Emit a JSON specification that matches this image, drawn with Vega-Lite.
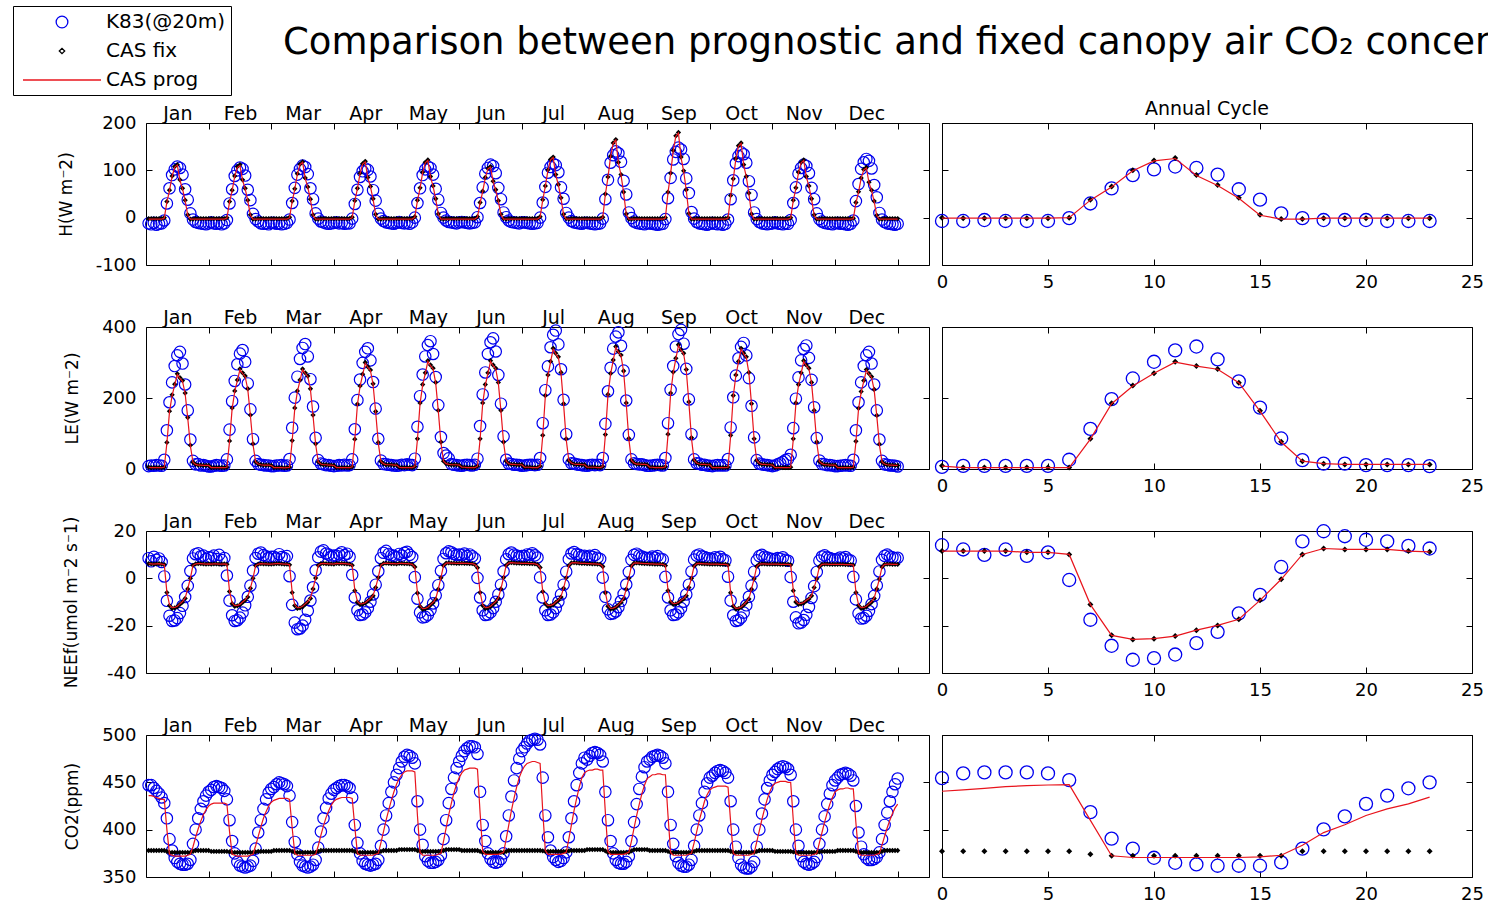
{
  "$schema": "https://vega.github.io/schema/vega-lite/v6.json",
  "background": "white",
  "padding": {"left": 12, "top": 5, "right": 5, "bottom": 5},
  "title": {
    "text": "Comparison between prognostic and fixed canopy air CO₂ concentration",
    "anchor": "start", "frame": "group", "font": "DejaVu Sans", "fontSize": 37,
    "fontWeight": "normal", "color": "black", "dx": 137, "dy": 56, "offset": 0
  },
  "config": {
    "view": {"stroke": "black", "strokeWidth": 1},
    "axis": {
      "domain": false, "grid": false, "ticks": true, "tickSize": -6, "tickColor": "black", "tickWidth": 1,
      "labelFont": "DejaVu Sans", "labelFontSize": 18, "labelColor": "black", "labelPadding": 16,
      "labelOverlap": false, "labelFlush": false, "labelBound": false,
      "titleFont": "DejaVu Sans", "titleFontSize": 17, "titleFontWeight": "normal", "titleColor": "black"
    }
  },
  "datasets": {
    "monthly": [
{"t":1,"Ho":-12,"Hf":-2,"Hg":-3,"Lo":8,"Lf":5,"Lg":5,"No":8.5,"Nf":6.2,"Ng":6.2,"Co":447,"Cf":378,"Cg":436},
{"t":2,"Ho":-14,"Hf":-2,"Hg":-3,"Lo":10,"Lf":4,"Lg":4,"No":7.2,"Nf":6.1,"Ng":6.1,"Co":447,"Cf":378,"Cg":436},
{"t":3,"Ho":-11,"Hf":-2,"Hg":-3,"Lo":9,"Lf":4,"Lg":4,"No":9.1,"Nf":6.0,"Ng":6.0,"Co":444,"Cf":378,"Cg":435},
{"t":4,"Ho":-15,"Hf":-2,"Hg":-3,"Lo":11,"Lf":4,"Lg":4,"No":7.8,"Nf":6.1,"Ng":6.1,"Co":441,"Cf":378,"Cg":434},
{"t":5,"Ho":-13,"Hf":-2,"Hg":-3,"Lo":10,"Lf":4,"Lg":4,"No":8.4,"Nf":6.2,"Ng":6.2,"Co":438,"Cf":378,"Cg":433},
{"t":6,"Ho":-12,"Hf":-2,"Hg":-3,"Lo":9,"Lf":4,"Lg":4,"No":6.9,"Nf":6.0,"Ng":6.0,"Co":434,"Cf":378,"Cg":432},
{"t":7,"Ho":-6,"Hf":0,"Hg":-1,"Lo":26,"Lf":5,"Lg":5,"No":0.8,"Nf":5.8,"Ng":5.8,"Co":428,"Cf":378,"Cg":432},
{"t":8,"Ho":30,"Hf":34,"Hg":33,"Lo":109,"Lf":75,"Lg":73,"No":-9.5,"Nf":-6.0,"Ng":-5.8,"Co":412,"Cf":377,"Cg":400},
{"t":9,"Ho":62,"Hf":58,"Hg":57,"Lo":188,"Lf":163,"Lg":161,"No":-15.8,"Nf":-11.5,"Ng":-11.2,"Co":390,"Cf":376,"Cg":374},
{"t":10,"Ho":90,"Hf":88,"Hg":87,"Lo":244,"Lf":209,"Lg":207,"No":-18.0,"Nf":-12.7,"Ng":-12.4,"Co":378,"Cf":376,"Cg":373},
{"t":11,"Ho":102,"Hf":108,"Hg":107,"Lo":290,"Lf":239,"Lg":237,"No":-17.8,"Nf":-12.5,"Ng":-12.3,"Co":370,"Cf":376,"Cg":372},
{"t":12,"Ho":108,"Hf":112,"Hg":111,"Lo":320,"Lf":268,"Lg":266,"No":-16.8,"Nf":-12.0,"Ng":-11.8,"Co":366,"Cf":376,"Cg":372},
{"t":13,"Ho":105,"Hf":80,"Hg":79,"Lo":330,"Lf":257,"Lg":255,"No":-14.7,"Nf":-11.0,"Ng":-10.8,"Co":364,"Cf":376,"Cg":372},
{"t":14,"Ho":91,"Hf":62,"Hg":61,"Lo":297,"Lf":249,"Lg":247,"No":-11.6,"Nf":-10.0,"Ng":-9.8,"Co":363,"Cf":376,"Cg":372},
{"t":15,"Ho":60,"Hf":37,"Hg":36,"Lo":238,"Lf":214,"Lg":212,"No":-7.9,"Nf":-8.5,"Ng":-8.3,"Co":363,"Cf":376,"Cg":372},
{"t":16,"Ho":38,"Hf":6,"Hg":5,"Lo":165,"Lf":145,"Lg":143,"No":-3.2,"Nf":-4.5,"Ng":-4.4,"Co":364,"Cf":376,"Cg":373},
{"t":17,"Ho":9,"Hf":-3,"Hg":-3,"Lo":83,"Lf":67,"Lg":65,"No":3.1,"Nf":0.0,"Ng":0.1,"Co":368,"Cf":376,"Cg":374},
{"t":18,"Ho":-4,"Hf":-3,"Hg":-3,"Lo":23,"Lf":19,"Lg":19,"No":8.4,"Nf":5.5,"Ng":5.5,"Co":385,"Cf":377,"Cg":382},
{"t":19,"Ho":-9,"Hf":-2,"Hg":-3,"Lo":13,"Lf":13,"Lg":13,"No":10.2,"Nf":6.1,"Ng":6.1,"Co":400,"Cf":378,"Cg":392},
{"t":20,"Ho":-11,"Hf":-2,"Hg":-3,"Lo":14,"Lf":11,"Lg":11,"No":10.6,"Nf":6.2,"Ng":6.2,"Co":412,"Cf":378,"Cg":401},
{"t":21,"Ho":-12,"Hf":-2,"Hg":-3,"Lo":10,"Lf":11,"Lg":11,"No":9.3,"Nf":6.2,"Ng":6.2,"Co":422,"Cf":378,"Cg":409},
{"t":22,"Ho":-13,"Hf":-2,"Hg":-3,"Lo":11,"Lf":10,"Lg":10,"No":9.6,"Nf":6.1,"Ng":6.1,"Co":430,"Cf":378,"Cg":416},
{"t":23,"Ho":-14,"Hf":-2,"Hg":-3,"Lo":9,"Lf":10,"Lg":10,"No":8.2,"Nf":6.0,"Ng":6.0,"Co":436,"Cf":378,"Cg":421},
{"t":24,"Ho":-12,"Hf":-2,"Hg":-3,"Lo":7,"Lf":10,"Lg":10,"No":8.9,"Nf":6.1,"Ng":6.1,"Co":440,"Cf":378,"Cg":425},
{"t":25,"Ho":-10,"Hf":-2,"Hg":-3,"Lo":7,"Lf":4,"Lg":4,"No":8.8,"Nf":6.0,"Ng":6.0,"Co":442,"Cf":377,"Cg":427},
{"t":26,"Ho":-12,"Hf":-2,"Hg":-3,"Lo":9,"Lf":4,"Lg":4,"No":9.6,"Nf":6.1,"Ng":6.1,"Co":445,"Cf":377,"Cg":428},
{"t":27,"Ho":-13,"Hf":-2,"Hg":-3,"Lo":11,"Lf":4,"Lg":4,"No":8.1,"Nf":6.1,"Ng":6.1,"Co":446,"Cf":377,"Cg":428},
{"t":28,"Ho":-11,"Hf":-2,"Hg":-3,"Lo":10,"Lf":4,"Lg":4,"No":9.9,"Nf":6.0,"Ng":6.0,"Co":445,"Cf":377,"Cg":428},
{"t":29,"Ho":-14,"Hf":-2,"Hg":-3,"Lo":9,"Lf":4,"Lg":4,"No":7.7,"Nf":6.0,"Ng":6.0,"Co":444,"Cf":377,"Cg":428},
{"t":30,"Ho":-12,"Hf":-2,"Hg":-3,"Lo":10,"Lf":4,"Lg":4,"No":8.6,"Nf":6.1,"Ng":6.1,"Co":441,"Cf":377,"Cg":428},
{"t":31,"Ho":-5,"Hf":0,"Hg":-1,"Lo":27,"Lf":5,"Lg":5,"No":1.2,"Nf":5.9,"Ng":5.9,"Co":432,"Cf":377,"Cg":427},
{"t":32,"Ho":30,"Hf":34,"Hg":33,"Lo":111,"Lf":79,"Lg":77,"No":-9.4,"Nf":-5.6,"Ng":-5.4,"Co":410,"Cf":376.5,"Cg":398},
{"t":33,"Ho":60,"Hf":58,"Hg":57,"Lo":191,"Lf":172,"Lg":170,"No":-15.6,"Nf":-10.7,"Ng":-10.4,"Co":388,"Cf":376,"Cg":374},
{"t":34,"Ho":88,"Hf":88,"Hg":87,"Lo":248,"Lf":220,"Lg":218,"No":-18.0,"Nf":-11.8,"Ng":-11.5,"Co":375,"Cf":376,"Cg":373},
{"t":35,"Ho":100,"Hf":108,"Hg":106,"Lo":295,"Lf":251,"Lg":249,"No":-17.7,"Nf":-11.6,"Ng":-11.4,"Co":366,"Cf":376,"Cg":372},
{"t":36,"Ho":106,"Hf":112,"Hg":110,"Lo":325,"Lf":282,"Lg":280,"No":-16.6,"Nf":-11.2,"Ng":-11.0,"Co":362,"Cf":376,"Cg":372},
{"t":37,"Ho":103,"Hf":80,"Hg":79,"Lo":335,"Lf":271,"Lg":269,"No":-14.5,"Nf":-10.2,"Ng":-10.0,"Co":361,"Cf":376,"Cg":372},
{"t":38,"Ho":89,"Hf":62,"Hg":61,"Lo":302,"Lf":262,"Lg":260,"No":-11.4,"Nf":-9.3,"Ng":-9.1,"Co":360,"Cf":376,"Cg":372},
{"t":39,"Ho":59,"Hf":37,"Hg":36,"Lo":241,"Lf":226,"Lg":224,"No":-7.8,"Nf":-7.9,"Ng":-7.7,"Co":361,"Cf":376,"Cg":372},
{"t":40,"Ho":37,"Hf":6,"Hg":5,"Lo":168,"Lf":152,"Lg":150,"No":-3.1,"Nf":-4.2,"Ng":-4.1,"Co":362,"Cf":376,"Cg":373},
{"t":41,"Ho":8,"Hf":-3,"Hg":-3,"Lo":84,"Lf":71,"Lg":69,"No":3.3,"Nf":0.0,"Ng":0.1,"Co":367,"Cf":376,"Cg":374},
{"t":42,"Ho":-3,"Hf":-3,"Hg":-3,"Lo":23,"Lf":20,"Lg":20,"No":8.6,"Nf":5.4,"Ng":5.4,"Co":380,"Cf":376.5,"Cg":383},
{"t":43,"Ho":-8,"Hf":-2,"Hg":-3,"Lo":14,"Lf":14,"Lg":14,"No":10.4,"Nf":6.0,"Ng":6.0,"Co":397,"Cf":377,"Cg":393},
{"t":44,"Ho":-12,"Hf":-2,"Hg":-3,"Lo":12,"Lf":12,"Lg":12,"No":10.9,"Nf":6.2,"Ng":6.2,"Co":410,"Cf":377,"Cg":403},
{"t":45,"Ho":-13,"Hf":-2,"Hg":-3,"Lo":11,"Lf":11,"Lg":11,"No":9.8,"Nf":6.1,"Ng":6.1,"Co":422,"Cf":377,"Cg":412},
{"t":46,"Ho":-12,"Hf":-2,"Hg":-3,"Lo":10,"Lf":11,"Lg":11,"No":9.3,"Nf":6.1,"Ng":6.1,"Co":432,"Cf":377,"Cg":419},
{"t":47,"Ho":-14,"Hf":-2,"Hg":-3,"Lo":10,"Lf":11,"Lg":11,"No":8.7,"Nf":6.0,"Ng":6.0,"Co":439,"Cf":377,"Cg":425},
{"t":48,"Ho":-11,"Hf":-2,"Hg":-3,"Lo":8,"Lf":10,"Lg":10,"No":9.1,"Nf":6.0,"Ng":6.0,"Co":443,"Cf":377,"Cg":429},
{"t":49,"Ho":-11,"Hf":-2,"Hg":-3,"Lo":8,"Lf":4,"Lg":4,"No":9.1,"Nf":6.1,"Ng":6.1,"Co":445,"Cf":378,"Cg":431},
{"t":50,"Ho":-13,"Hf":-2,"Hg":-3,"Lo":10,"Lf":4,"Lg":4,"No":8.4,"Nf":6.2,"Ng":6.2,"Co":448,"Cf":378,"Cg":432},
{"t":51,"Ho":-12,"Hf":-2,"Hg":-3,"Lo":10,"Lf":4,"Lg":4,"No":10.2,"Nf":6.2,"Ng":6.2,"Co":450,"Cf":378,"Cg":433},
{"t":52,"Ho":-14,"Hf":-2,"Hg":-3,"Lo":11,"Lf":4,"Lg":4,"No":9.0,"Nf":6.1,"Ng":6.1,"Co":449,"Cf":378,"Cg":433},
{"t":53,"Ho":-13,"Hf":-2,"Hg":-3,"Lo":9,"Lf":3,"Lg":3,"No":8.6,"Nf":6.0,"Ng":6.0,"Co":448,"Cf":378,"Cg":433},
{"t":54,"Ho":-11,"Hf":-2,"Hg":-3,"Lo":10,"Lf":4,"Lg":4,"No":9.4,"Nf":6.0,"Ng":6.0,"Co":446,"Cf":378,"Cg":433},
{"t":55,"Ho":-4,"Hf":1,"Hg":0,"Lo":28,"Lf":5,"Lg":5,"No":0.9,"Nf":5.7,"Ng":5.7,"Co":436,"Cf":378,"Cg":432},
{"t":56,"Ho":31,"Hf":35,"Hg":34,"Lo":116,"Lf":80,"Lg":78,"No":-11.2,"Nf":-6.0,"Ng":-5.8,"Co":408,"Cf":377,"Cg":402},
{"t":57,"Ho":63,"Hf":61,"Hg":60,"Lo":201,"Lf":172,"Lg":170,"No":-18.7,"Nf":-11.5,"Ng":-11.2,"Co":387,"Cf":376,"Cg":375},
{"t":58,"Ho":91,"Hf":93,"Hg":92,"Lo":260,"Lf":220,"Lg":218,"No":-21.5,"Nf":-12.7,"Ng":-12.4,"Co":374,"Cf":376,"Cg":373},
{"t":59,"Ho":103,"Hf":113,"Hg":112,"Lo":310,"Lf":251,"Lg":249,"No":-21.2,"Nf":-12.5,"Ng":-12.3,"Co":366,"Cf":376,"Cg":373},
{"t":60,"Ho":110,"Hf":118,"Hg":117,"Lo":341,"Lf":282,"Lg":280,"No":-20.0,"Nf":-12.0,"Ng":-11.8,"Co":362,"Cf":376,"Cg":373},
{"t":61,"Ho":107,"Hf":84,"Hg":83,"Lo":352,"Lf":271,"Lg":269,"No":-17.5,"Nf":-11.0,"Ng":-10.8,"Co":361,"Cf":376,"Cg":373},
{"t":62,"Ho":92,"Hf":65,"Hg":64,"Lo":317,"Lf":262,"Lg":260,"No":-13.7,"Nf":-10.0,"Ng":-9.8,"Co":360,"Cf":376,"Cg":373},
{"t":63,"Ho":62,"Hf":39,"Hg":38,"Lo":253,"Lf":226,"Lg":224,"No":-9.4,"Nf":-8.5,"Ng":-8.3,"Co":361,"Cf":376,"Cg":373},
{"t":64,"Ho":39,"Hf":6,"Hg":5,"Lo":176,"Lf":152,"Lg":150,"No":-3.8,"Nf":-4.5,"Ng":-4.4,"Co":363,"Cf":376,"Cg":373},
{"t":65,"Ho":9,"Hf":-3,"Hg":-3,"Lo":88,"Lf":71,"Lg":69,"No":3.4,"Nf":0.1,"Ng":0.2,"Co":368,"Cf":376,"Cg":374},
{"t":66,"Ho":-2,"Hf":-3,"Hg":-3,"Lo":25,"Lf":20,"Lg":20,"No":8.9,"Nf":5.5,"Ng":5.5,"Co":381,"Cf":377,"Cg":383},
{"t":67,"Ho":-8,"Hf":-2,"Hg":-3,"Lo":15,"Lf":14,"Lg":14,"No":11.3,"Nf":6.2,"Ng":6.2,"Co":398,"Cf":378,"Cg":394},
{"t":68,"Ho":-10,"Hf":-2,"Hg":-3,"Lo":13,"Lf":12,"Lg":12,"No":11.8,"Nf":6.3,"Ng":6.3,"Co":412,"Cf":378,"Cg":404},
{"t":69,"Ho":-12,"Hf":-2,"Hg":-3,"Lo":11,"Lf":12,"Lg":12,"No":10.5,"Nf":6.2,"Ng":6.2,"Co":423,"Cf":378,"Cg":413},
{"t":70,"Ho":-13,"Hf":-2,"Hg":-3,"Lo":11,"Lf":11,"Lg":11,"No":10.0,"Nf":6.1,"Ng":6.1,"Co":433,"Cf":378,"Cg":420},
{"t":71,"Ho":-12,"Hf":-2,"Hg":-3,"Lo":9,"Lf":11,"Lg":11,"No":9.2,"Nf":6.1,"Ng":6.1,"Co":438,"Cf":378,"Cg":426},
{"t":72,"Ho":-11,"Hf":-2,"Hg":-3,"Lo":8,"Lf":10,"Lg":10,"No":9.6,"Nf":6.0,"Ng":6.0,"Co":442,"Cf":378,"Cg":430},
{"t":73,"Ho":-10,"Hf":-2,"Hg":-3,"Lo":9,"Lf":4,"Lg":4,"No":9.5,"Nf":6.3,"Ng":6.3,"Co":444,"Cf":378,"Cg":432},
{"t":74,"Ho":-12,"Hf":-2,"Hg":-3,"Lo":11,"Lf":4,"Lg":4,"No":10.2,"Nf":6.2,"Ng":6.2,"Co":446,"Cf":378,"Cg":433},
{"t":75,"Ho":-11,"Hf":-2,"Hg":-3,"Lo":10,"Lf":4,"Lg":4,"No":11.0,"Nf":6.3,"Ng":6.3,"Co":447,"Cf":378,"Cg":434},
{"t":76,"Ho":-13,"Hf":-2,"Hg":-3,"Lo":12,"Lf":4,"Lg":4,"No":9.8,"Nf":6.2,"Ng":6.2,"Co":447,"Cf":378,"Cg":434},
{"t":77,"Ho":-12,"Hf":-2,"Hg":-3,"Lo":10,"Lf":4,"Lg":4,"No":10.4,"Nf":6.1,"Ng":6.1,"Co":446,"Cf":378,"Cg":434},
{"t":78,"Ho":-12,"Hf":-2,"Hg":-3,"Lo":11,"Lf":4,"Lg":4,"No":9.1,"Nf":6.0,"Ng":6.0,"Co":444,"Cf":378,"Cg":434},
{"t":79,"Ho":-2,"Hf":1,"Hg":0,"Lo":27,"Lf":6,"Lg":6,"No":1.5,"Nf":5.5,"Ng":5.5,"Co":434,"Cf":378,"Cg":433},
{"t":80,"Ho":29,"Hf":36,"Hg":35,"Lo":112,"Lf":84,"Lg":82,"No":-8.1,"Nf":-5.2,"Ng":-5.0,"Co":405,"Cf":377,"Cg":403},
{"t":81,"Ho":59,"Hf":62,"Hg":61,"Lo":194,"Lf":183,"Lg":181,"No":-13.5,"Nf":-10.1,"Ng":-9.8,"Co":386,"Cf":376,"Cg":375},
{"t":82,"Ho":86,"Hf":94,"Hg":93,"Lo":252,"Lf":234,"Lg":232,"No":-15.5,"Nf":-11.1,"Ng":-10.8,"Co":375,"Cf":376,"Cg":373},
{"t":83,"Ho":98,"Hf":114,"Hg":113,"Lo":299,"Lf":267,"Lg":265,"No":-15.3,"Nf":-10.9,"Ng":-10.7,"Co":367,"Cf":376,"Cg":373},
{"t":84,"Ho":104,"Hf":119,"Hg":118,"Lo":330,"Lf":300,"Lg":298,"No":-14.4,"Nf":-10.5,"Ng":-10.3,"Co":364,"Cf":376,"Cg":373},
{"t":85,"Ho":101,"Hf":85,"Hg":84,"Lo":340,"Lf":288,"Lg":286,"No":-12.6,"Nf":-9.6,"Ng":-9.4,"Co":363,"Cf":376,"Cg":373},
{"t":86,"Ho":87,"Hf":66,"Hg":65,"Lo":306,"Lf":279,"Lg":277,"No":-9.9,"Nf":-8.7,"Ng":-8.5,"Co":362,"Cf":376,"Cg":373},
{"t":87,"Ho":58,"Hf":40,"Hg":39,"Lo":245,"Lf":240,"Lg":238,"No":-6.8,"Nf":-7.4,"Ng":-7.2,"Co":363,"Cf":376,"Cg":373},
{"t":88,"Ho":36,"Hf":7,"Hg":6,"Lo":170,"Lf":162,"Lg":160,"No":-2.7,"Nf":-3.9,"Ng":-3.8,"Co":364,"Cf":376,"Cg":374},
{"t":89,"Ho":8,"Hf":-3,"Hg":-3,"Lo":85,"Lf":75,"Lg":73,"No":3.0,"Nf":0.3,"Ng":0.4,"Co":368,"Cf":376,"Cg":375},
{"t":90,"Ho":-2,"Hf":-3,"Hg":-3,"Lo":24,"Lf":21,"Lg":21,"No":8.5,"Nf":5.6,"Ng":5.6,"Co":383,"Cf":377,"Cg":386},
{"t":91,"Ho":-7,"Hf":-2,"Hg":-3,"Lo":14,"Lf":15,"Lg":15,"No":10.8,"Nf":6.3,"Ng":6.3,"Co":400,"Cf":378,"Cg":398},
{"t":92,"Ho":-10,"Hf":-2,"Hg":-3,"Lo":13,"Lf":12,"Lg":12,"No":11.6,"Nf":6.4,"Ng":6.4,"Co":415,"Cf":378,"Cg":410},
{"t":93,"Ho":-11,"Hf":-2,"Hg":-3,"Lo":12,"Lf":12,"Lg":12,"No":10.3,"Nf":6.3,"Ng":6.3,"Co":428,"Cf":378,"Cg":421},
{"t":94,"Ho":-12,"Hf":-2,"Hg":-3,"Lo":11,"Lf":12,"Lg":12,"No":9.7,"Nf":6.2,"Ng":6.2,"Co":440,"Cf":378,"Cg":431},
{"t":95,"Ho":-13,"Hf":-2,"Hg":-3,"Lo":10,"Lf":11,"Lg":11,"No":9.5,"Nf":6.2,"Ng":6.2,"Co":450,"Cf":378,"Cg":440},
{"t":96,"Ho":-11,"Hf":-2,"Hg":-3,"Lo":9,"Lf":11,"Lg":11,"No":9.0,"Nf":6.1,"Ng":6.1,"Co":458,"Cf":378,"Cg":448},
{"t":97,"Ho":-9,"Hf":-2,"Hg":-3,"Lo":10,"Lf":5,"Lg":5,"No":10.3,"Nf":6.3,"Ng":6.3,"Co":465,"Cf":379,"Cg":454},
{"t":98,"Ho":-11,"Hf":-2,"Hg":-3,"Lo":12,"Lf":4,"Lg":4,"No":9.6,"Nf":6.3,"Ng":6.3,"Co":472,"Cf":379,"Cg":458},
{"t":99,"Ho":-12,"Hf":-2,"Hg":-3,"Lo":11,"Lf":4,"Lg":4,"No":10.8,"Nf":6.2,"Ng":6.2,"Co":477,"Cf":379,"Cg":461},
{"t":100,"Ho":-11,"Hf":-2,"Hg":-3,"Lo":13,"Lf":4,"Lg":4,"No":11.2,"Nf":6.2,"Ng":6.2,"Co":479,"Cf":379,"Cg":462},
{"t":101,"Ho":-13,"Hf":-2,"Hg":-3,"Lo":12,"Lf":4,"Lg":4,"No":9.9,"Nf":6.1,"Ng":6.1,"Co":478,"Cf":379,"Cg":462},
{"t":102,"Ho":-10,"Hf":-2,"Hg":-3,"Lo":11,"Lf":4,"Lg":4,"No":9.0,"Nf":5.9,"Ng":5.9,"Co":476,"Cf":379,"Cg":462},
{"t":103,"Ho":0,"Hf":2,"Hg":1,"Lo":29,"Lf":7,"Lg":7,"No":0.5,"Nf":4.8,"Ng":4.8,"Co":470,"Cf":379,"Cg":461},
{"t":104,"Ho":31,"Hf":37,"Hg":36,"Lo":119,"Lf":85,"Lg":83,"No":-8.6,"Nf":-6.2,"Ng":-6.0,"Co":430,"Cf":378,"Cg":415},
{"t":105,"Ho":62,"Hf":63,"Hg":62,"Lo":205,"Lf":186,"Lg":184,"No":-14.4,"Nf":-11.9,"Ng":-11.6,"Co":400,"Cf":377,"Cg":376},
{"t":106,"Ho":90,"Hf":96,"Hg":95,"Lo":266,"Lf":238,"Lg":236,"No":-16.5,"Nf":-13.1,"Ng":-12.8,"Co":384,"Cf":377,"Cg":373},
{"t":107,"Ho":102,"Hf":117,"Hg":116,"Lo":317,"Lf":271,"Lg":269,"No":-16.3,"Nf":-12.9,"Ng":-12.7,"Co":372,"Cf":377,"Cg":373},
{"t":108,"Ho":108,"Hf":122,"Hg":121,"Lo":349,"Lf":305,"Lg":303,"No":-15.4,"Nf":-12.4,"Ng":-12.2,"Co":367,"Cf":377,"Cg":373},
{"t":109,"Ho":105,"Hf":87,"Hg":86,"Lo":360,"Lf":293,"Lg":291,"No":-13.4,"Nf":-11.3,"Ng":-11.1,"Co":365,"Cf":377,"Cg":373},
{"t":110,"Ho":91,"Hf":67,"Hg":66,"Lo":324,"Lf":284,"Lg":282,"No":-10.6,"Nf":-10.3,"Ng":-10.1,"Co":365,"Cf":377,"Cg":373},
{"t":111,"Ho":61,"Hf":40,"Hg":39,"Lo":259,"Lf":244,"Lg":242,"No":-7.2,"Nf":-8.8,"Ng":-8.6,"Co":366,"Cf":377,"Cg":373},
{"t":112,"Ho":38,"Hf":8,"Hg":7,"Lo":180,"Lf":165,"Lg":163,"No":-2.9,"Nf":-4.6,"Ng":-4.5,"Co":368,"Cf":377,"Cg":374},
{"t":113,"Ho":10,"Hf":-2,"Hg":-3,"Lo":90,"Lf":76,"Lg":74,"No":3.2,"Nf":0.2,"Ng":0.3,"Co":373,"Cf":377,"Cg":375},
{"t":114,"Ho":0,"Hf":-3,"Hg":-3,"Lo":45,"Lf":22,"Lg":22,"No":8.2,"Nf":5.4,"Ng":5.4,"Co":390,"Cf":378,"Cg":388},
{"t":115,"Ho":-6,"Hf":-2,"Hg":-3,"Lo":38,"Lf":15,"Lg":15,"No":10.6,"Nf":6.4,"Ng":6.4,"Co":410,"Cf":379,"Cg":402},
{"t":116,"Ho":-9,"Hf":-2,"Hg":-3,"Lo":30,"Lf":13,"Lg":13,"No":11.4,"Nf":6.5,"Ng":6.5,"Co":428,"Cf":379,"Cg":416},
{"t":117,"Ho":-10,"Hf":-2,"Hg":-3,"Lo":14,"Lf":12,"Lg":12,"No":11.0,"Nf":6.4,"Ng":6.4,"Co":443,"Cf":379,"Cg":428},
{"t":118,"Ho":-11,"Hf":-2,"Hg":-3,"Lo":12,"Lf":12,"Lg":12,"No":10.3,"Nf":6.4,"Ng":6.4,"Co":455,"Cf":379,"Cg":439},
{"t":119,"Ho":-12,"Hf":-2,"Hg":-3,"Lo":11,"Lf":12,"Lg":12,"No":9.8,"Nf":6.3,"Ng":6.3,"Co":465,"Cf":379,"Cg":448},
{"t":120,"Ho":-10,"Hf":-2,"Hg":-3,"Lo":10,"Lf":11,"Lg":11,"No":10.1,"Nf":6.3,"Ng":6.3,"Co":472,"Cf":379,"Cg":455},
{"t":121,"Ho":-9,"Hf":-2,"Hg":-3,"Lo":9,"Lf":5,"Lg":5,"No":9.8,"Nf":6.4,"Ng":6.4,"Co":478,"Cf":378,"Cg":460},
{"t":122,"Ho":-10,"Hf":-2,"Hg":-3,"Lo":11,"Lf":5,"Lg":5,"No":10.5,"Nf":6.3,"Ng":6.3,"Co":483,"Cf":378,"Cg":463},
{"t":123,"Ho":-11,"Hf":-2,"Hg":-3,"Lo":12,"Lf":4,"Lg":4,"No":9.4,"Nf":6.3,"Ng":6.3,"Co":486,"Cf":378,"Cg":464},
{"t":124,"Ho":-12,"Hf":-2,"Hg":-3,"Lo":11,"Lf":4,"Lg":4,"No":10.1,"Nf":6.2,"Ng":6.2,"Co":488,"Cf":378,"Cg":465},
{"t":125,"Ho":-11,"Hf":-2,"Hg":-3,"Lo":10,"Lf":4,"Lg":4,"No":9.3,"Nf":6.2,"Ng":6.2,"Co":488,"Cf":378,"Cg":465},
{"t":126,"Ho":-10,"Hf":-2,"Hg":-3,"Lo":12,"Lf":4,"Lg":4,"No":8.4,"Nf":5.8,"Ng":5.8,"Co":487,"Cf":378,"Cg":465},
{"t":127,"Ho":1,"Hf":2,"Hg":1,"Lo":29,"Lf":8,"Lg":8,"No":0.2,"Nf":4.5,"Ng":4.5,"Co":480,"Cf":378,"Cg":464},
{"t":128,"Ho":31,"Hf":32,"Hg":31,"Lo":121,"Lf":85,"Lg":83,"No":-8.1,"Nf":-6.0,"Ng":-5.8,"Co":440,"Cf":377,"Cg":418},
{"t":129,"Ho":64,"Hf":56,"Hg":55,"Lo":210,"Lf":186,"Lg":184,"No":-13.5,"Nf":-11.5,"Ng":-11.2,"Co":405,"Cf":376,"Cg":377},
{"t":130,"Ho":93,"Hf":85,"Hg":84,"Lo":272,"Lf":238,"Lg":236,"No":-15.5,"Nf":-12.7,"Ng":-12.4,"Co":388,"Cf":376,"Cg":374},
{"t":131,"Ho":105,"Hf":104,"Hg":103,"Lo":324,"Lf":271,"Lg":269,"No":-15.3,"Nf":-12.5,"Ng":-12.3,"Co":375,"Cf":376,"Cg":374},
{"t":132,"Ho":112,"Hf":108,"Hg":107,"Lo":357,"Lf":305,"Lg":303,"No":-14.4,"Nf":-12.0,"Ng":-11.8,"Co":369,"Cf":376,"Cg":374},
{"t":133,"Ho":109,"Hf":77,"Hg":76,"Lo":368,"Lf":293,"Lg":291,"No":-12.6,"Nf":-11.0,"Ng":-10.8,"Co":366,"Cf":376,"Cg":374},
{"t":134,"Ho":94,"Hf":59,"Hg":58,"Lo":331,"Lf":284,"Lg":282,"No":-9.9,"Nf":-10.0,"Ng":-9.8,"Co":365,"Cf":376,"Cg":374},
{"t":135,"Ho":63,"Hf":36,"Hg":35,"Lo":265,"Lf":244,"Lg":242,"No":-6.8,"Nf":-8.5,"Ng":-8.3,"Co":366,"Cf":376,"Cg":374},
{"t":136,"Ho":39,"Hf":7,"Hg":6,"Lo":184,"Lf":165,"Lg":163,"No":-2.7,"Nf":-4.5,"Ng":-4.4,"Co":369,"Cf":376,"Cg":375},
{"t":137,"Ho":11,"Hf":-2,"Hg":-3,"Lo":92,"Lf":76,"Lg":74,"No":3.0,"Nf":0.3,"Ng":0.4,"Co":375,"Cf":376,"Cg":376},
{"t":138,"Ho":1,"Hf":-3,"Hg":-3,"Lo":26,"Lf":22,"Lg":22,"No":8.0,"Nf":5.5,"Ng":5.5,"Co":393,"Cf":377,"Cg":390},
{"t":139,"Ho":-6,"Hf":-2,"Hg":-3,"Lo":15,"Lf":15,"Lg":15,"No":10.2,"Nf":6.5,"Ng":6.5,"Co":415,"Cf":378,"Cg":405},
{"t":140,"Ho":-9,"Hf":-2,"Hg":-3,"Lo":14,"Lf":13,"Lg":13,"No":10.9,"Nf":6.6,"Ng":6.6,"Co":435,"Cf":378,"Cg":420},
{"t":141,"Ho":-10,"Hf":-2,"Hg":-3,"Lo":12,"Lf":13,"Lg":13,"No":10.0,"Nf":6.5,"Ng":6.5,"Co":452,"Cf":378,"Cg":433},
{"t":142,"Ho":-11,"Hf":-2,"Hg":-3,"Lo":12,"Lf":12,"Lg":12,"No":9.6,"Nf":6.4,"Ng":6.4,"Co":465,"Cf":378,"Cg":445},
{"t":143,"Ho":-12,"Hf":-2,"Hg":-3,"Lo":11,"Lf":12,"Lg":12,"No":9.1,"Nf":6.4,"Ng":6.4,"Co":475,"Cf":378,"Cg":455},
{"t":144,"Ho":-10,"Hf":-2,"Hg":-3,"Lo":9,"Lf":12,"Lg":12,"No":9.4,"Nf":6.3,"Ng":6.3,"Co":483,"Cf":378,"Cg":462},
{"t":145,"Ho":-10,"Hf":-2,"Hg":-3,"Lo":10,"Lf":5,"Lg":5,"No":9.4,"Nf":6.3,"Ng":6.3,"Co":487,"Cf":378,"Cg":467},
{"t":146,"Ho":-11,"Hf":-2,"Hg":-3,"Lo":11,"Lf":5,"Lg":5,"No":10.1,"Nf":6.3,"Ng":6.3,"Co":491,"Cf":378,"Cg":470},
{"t":147,"Ho":-12,"Hf":-2,"Hg":-3,"Lo":12,"Lf":5,"Lg":5,"No":9.8,"Nf":6.2,"Ng":6.2,"Co":494,"Cf":378,"Cg":471},
{"t":148,"Ho":-13,"Hf":-2,"Hg":-3,"Lo":12,"Lf":4,"Lg":4,"No":10.6,"Nf":6.2,"Ng":6.2,"Co":495,"Cf":378,"Cg":472},
{"t":149,"Ho":-12,"Hf":-2,"Hg":-3,"Lo":11,"Lf":4,"Lg":4,"No":9.7,"Nf":6.1,"Ng":6.1,"Co":496,"Cf":378,"Cg":472},
{"t":150,"Ho":-11,"Hf":-2,"Hg":-3,"Lo":12,"Lf":4,"Lg":4,"No":8.8,"Nf":5.8,"Ng":5.8,"Co":495,"Cf":378,"Cg":471},
{"t":151,"Ho":0,"Hf":2,"Hg":1,"Lo":31,"Lf":8,"Lg":8,"No":0.4,"Nf":4.6,"Ng":4.6,"Co":490,"Cf":378,"Cg":470},
{"t":152,"Ho":32,"Hf":38,"Hg":37,"Lo":129,"Lf":95,"Lg":93,"No":-8.1,"Nf":-5.6,"Ng":-5.4,"Co":455,"Cf":377.5,"Cg":420},
{"t":153,"Ho":65,"Hf":67,"Hg":66,"Lo":222,"Lf":207,"Lg":205,"No":-13.5,"Nf":-10.7,"Ng":-10.4,"Co":415,"Cf":377,"Cg":378},
{"t":154,"Ho":95,"Hf":101,"Hg":100,"Lo":289,"Lf":265,"Lg":263,"No":-15.5,"Nf":-11.8,"Ng":-11.5,"Co":392,"Cf":377,"Cg":374},
{"t":155,"Ho":107,"Hf":123,"Hg":122,"Lo":343,"Lf":303,"Lg":301,"No":-15.3,"Nf":-11.6,"Ng":-11.4,"Co":378,"Cf":377,"Cg":374},
{"t":156,"Ho":114,"Hf":128,"Hg":127,"Lo":378,"Lf":340,"Lg":338,"No":-14.4,"Nf":-11.2,"Ng":-11.0,"Co":371,"Cf":377,"Cg":374},
{"t":157,"Ho":111,"Hf":91,"Hg":90,"Lo":390,"Lf":326,"Lg":324,"No":-12.6,"Nf":-10.2,"Ng":-10.0,"Co":368,"Cf":377,"Cg":374},
{"t":158,"Ho":96,"Hf":70,"Hg":69,"Lo":351,"Lf":316,"Lg":314,"No":-9.9,"Nf":-9.3,"Ng":-9.1,"Co":366,"Cf":377,"Cg":374},
{"t":159,"Ho":64,"Hf":42,"Hg":41,"Lo":281,"Lf":272,"Lg":270,"No":-6.8,"Nf":-7.9,"Ng":-7.7,"Co":367,"Cf":377,"Cg":374},
{"t":160,"Ho":40,"Hf":7,"Hg":6,"Lo":195,"Lf":184,"Lg":182,"No":-2.7,"Nf":-4.2,"Ng":-4.1,"Co":370,"Cf":377,"Cg":375},
{"t":161,"Ho":10,"Hf":-2,"Hg":-3,"Lo":98,"Lf":85,"Lg":83,"No":2.8,"Nf":0.2,"Ng":0.3,"Co":376,"Cf":377,"Cg":376},
{"t":162,"Ho":0,"Hf":-3,"Hg":-3,"Lo":27,"Lf":24,"Lg":24,"No":8.1,"Nf":5.4,"Ng":5.4,"Co":392,"Cf":377.5,"Cg":390},
{"t":163,"Ho":-7,"Hf":-2,"Hg":-3,"Lo":16,"Lf":17,"Lg":17,"No":10.5,"Nf":6.5,"Ng":6.5,"Co":412,"Cf":378,"Cg":405},
{"t":164,"Ho":-10,"Hf":-2,"Hg":-3,"Lo":15,"Lf":14,"Lg":14,"No":11.1,"Nf":6.6,"Ng":6.6,"Co":430,"Cf":378,"Cg":420},
{"t":165,"Ho":-11,"Hf":-2,"Hg":-3,"Lo":13,"Lf":13,"Lg":13,"No":10.2,"Nf":6.5,"Ng":6.5,"Co":447,"Cf":378,"Cg":433},
{"t":166,"Ho":-12,"Hf":-2,"Hg":-3,"Lo":12,"Lf":13,"Lg":13,"No":9.9,"Nf":6.4,"Ng":6.4,"Co":460,"Cf":378,"Cg":445},
{"t":167,"Ho":-13,"Hf":-2,"Hg":-3,"Lo":11,"Lf":12,"Lg":12,"No":9.3,"Nf":6.3,"Ng":6.3,"Co":470,"Cf":378,"Cg":455},
{"t":168,"Ho":-11,"Hf":-2,"Hg":-3,"Lo":10,"Lf":12,"Lg":12,"No":9.5,"Nf":6.3,"Ng":6.3,"Co":476,"Cf":378,"Cg":460},
{"t":169,"Ho":-11,"Hf":-2,"Hg":-3,"Lo":9,"Lf":5,"Lg":5,"No":8.9,"Nf":6.2,"Ng":6.2,"Co":474,"Cf":379,"Cg":462},
{"t":170,"Ho":-12,"Hf":-2,"Hg":-3,"Lo":11,"Lf":5,"Lg":5,"No":9.5,"Nf":6.2,"Ng":6.2,"Co":478,"Cf":379,"Cg":463},
{"t":171,"Ho":-13,"Hf":-2,"Hg":-3,"Lo":12,"Lf":5,"Lg":5,"No":9.1,"Nf":6.1,"Ng":6.1,"Co":481,"Cf":379,"Cg":463},
{"t":172,"Ho":-14,"Hf":-2,"Hg":-3,"Lo":11,"Lf":5,"Lg":5,"No":9.8,"Nf":6.1,"Ng":6.1,"Co":482,"Cf":379,"Cg":464},
{"t":173,"Ho":-13,"Hf":-2,"Hg":-3,"Lo":12,"Lf":4,"Lg":4,"No":8.7,"Nf":6.0,"Ng":6.0,"Co":481,"Cf":379,"Cg":464},
{"t":174,"Ho":-12,"Hf":-2,"Hg":-3,"Lo":11,"Lf":4,"Lg":4,"No":8.2,"Nf":5.9,"Ng":5.9,"Co":479,"Cf":379,"Cg":463},
{"t":175,"Ho":-2,"Hf":1,"Hg":0,"Lo":31,"Lf":7,"Lg":7,"No":0.3,"Nf":5.0,"Ng":5.0,"Co":472,"Cf":379,"Cg":463},
{"t":176,"Ho":39,"Hf":50,"Hg":49,"Lo":127,"Lf":97,"Lg":95,"No":-7.8,"Nf":-6.1,"Ng":-5.9,"Co":440,"Cf":377.5,"Cg":418},
{"t":177,"Ho":80,"Hf":86,"Hg":85,"Lo":219,"Lf":210,"Lg":208,"No":-13.1,"Nf":-11.8,"Ng":-11.5,"Co":410,"Cf":376,"Cg":377},
{"t":178,"Ho":116,"Hf":130,"Hg":129,"Lo":285,"Lf":269,"Lg":267,"No":-15.0,"Nf":-13.0,"Ng":-12.7,"Co":388,"Cf":376,"Cg":374},
{"t":179,"Ho":132,"Hf":158,"Hg":157,"Lo":339,"Lf":307,"Lg":305,"No":-14.8,"Nf":-12.8,"Ng":-12.6,"Co":375,"Cf":376,"Cg":374},
{"t":180,"Ho":140,"Hf":165,"Hg":164,"Lo":373,"Lf":345,"Lg":343,"No":-14.0,"Nf":-12.3,"Ng":-12.1,"Co":368,"Cf":376,"Cg":374},
{"t":181,"Ho":136,"Hf":117,"Hg":116,"Lo":385,"Lf":331,"Lg":329,"No":-12.2,"Nf":-11.3,"Ng":-11.1,"Co":365,"Cf":376,"Cg":374},
{"t":182,"Ho":118,"Hf":91,"Hg":90,"Lo":347,"Lf":321,"Lg":319,"No":-9.6,"Nf":-10.2,"Ng":-10.0,"Co":364,"Cf":376,"Cg":374},
{"t":183,"Ho":78,"Hf":54,"Hg":53,"Lo":277,"Lf":276,"Lg":274,"No":-6.6,"Nf":-8.7,"Ng":-8.5,"Co":364,"Cf":376,"Cg":374},
{"t":184,"Ho":49,"Hf":8,"Hg":7,"Lo":193,"Lf":186,"Lg":184,"No":-2.6,"Nf":-4.6,"Ng":-4.5,"Co":366,"Cf":376,"Cg":375},
{"t":185,"Ho":11,"Hf":-3,"Hg":-3,"Lo":96,"Lf":86,"Lg":84,"No":2.7,"Nf":0.0,"Ng":0.1,"Co":372,"Cf":376,"Cg":376},
{"t":186,"Ho":-1,"Hf":-3,"Hg":-3,"Lo":27,"Lf":24,"Lg":24,"No":7.8,"Nf":5.3,"Ng":5.3,"Co":388,"Cf":377.5,"Cg":388},
{"t":187,"Ho":-8,"Hf":-2,"Hg":-3,"Lo":16,"Lf":17,"Lg":17,"No":9.9,"Nf":6.4,"Ng":6.4,"Co":408,"Cf":379,"Cg":402},
{"t":188,"Ho":-11,"Hf":-2,"Hg":-3,"Lo":14,"Lf":14,"Lg":14,"No":10.4,"Nf":6.5,"Ng":6.5,"Co":427,"Cf":379,"Cg":415},
{"t":189,"Ho":-12,"Hf":-2,"Hg":-3,"Lo":13,"Lf":14,"Lg":14,"No":9.6,"Nf":6.4,"Ng":6.4,"Co":443,"Cf":379,"Cg":427},
{"t":190,"Ho":-13,"Hf":-2,"Hg":-3,"Lo":13,"Lf":13,"Lg":13,"No":9.2,"Nf":6.3,"Ng":6.3,"Co":456,"Cf":379,"Cg":438},
{"t":191,"Ho":-14,"Hf":-2,"Hg":-3,"Lo":11,"Lf":13,"Lg":13,"No":8.8,"Nf":6.2,"Ng":6.2,"Co":466,"Cf":379,"Cg":447},
{"t":192,"Ho":-12,"Hf":-2,"Hg":-3,"Lo":9,"Lf":12,"Lg":12,"No":8.6,"Nf":6.2,"Ng":6.2,"Co":472,"Cf":379,"Cg":454},
{"t":193,"Ho":-12,"Hf":-2,"Hg":-3,"Lo":9,"Lf":5,"Lg":5,"No":8.5,"Nf":6.1,"Ng":6.1,"Co":474,"Cf":378,"Cg":456},
{"t":194,"Ho":-13,"Hf":-2,"Hg":-3,"Lo":10,"Lf":5,"Lg":5,"No":9.2,"Nf":6.1,"Ng":6.1,"Co":477,"Cf":378,"Cg":458},
{"t":195,"Ho":-14,"Hf":-2,"Hg":-3,"Lo":11,"Lf":4,"Lg":4,"No":8.8,"Nf":6.0,"Ng":6.0,"Co":478,"Cf":378,"Cg":458},
{"t":196,"Ho":-15,"Hf":-2,"Hg":-3,"Lo":12,"Lf":4,"Lg":4,"No":9.4,"Nf":6.0,"Ng":6.0,"Co":479,"Cf":378,"Cg":459},
{"t":197,"Ho":-14,"Hf":-2,"Hg":-3,"Lo":11,"Lf":4,"Lg":4,"No":8.3,"Nf":6.0,"Ng":6.0,"Co":478,"Cf":378,"Cg":459},
{"t":198,"Ho":-13,"Hf":-2,"Hg":-3,"Lo":10,"Lf":4,"Lg":4,"No":8.0,"Nf":5.9,"Ng":5.9,"Co":476,"Cf":378,"Cg":458},
{"t":199,"Ho":-3,"Hf":0,"Hg":-1,"Lo":31,"Lf":6,"Lg":6,"No":0.6,"Nf":5.4,"Ng":5.4,"Co":470,"Cf":378,"Cg":458},
{"t":200,"Ho":41,"Hf":54,"Hg":53,"Lo":129,"Lf":98,"Lg":96,"No":-8.1,"Nf":-5.2,"Ng":-5.0,"Co":440,"Cf":377,"Cg":415},
{"t":201,"Ho":84,"Hf":94,"Hg":93,"Lo":223,"Lf":214,"Lg":212,"No":-13.5,"Nf":-10.0,"Ng":-9.7,"Co":405,"Cf":376,"Cg":376},
{"t":202,"Ho":123,"Hf":142,"Hg":141,"Lo":290,"Lf":273,"Lg":271,"No":-15.5,"Nf":-11.0,"Ng":-10.7,"Co":385,"Cf":376,"Cg":373},
{"t":203,"Ho":139,"Hf":173,"Hg":172,"Lo":345,"Lf":312,"Lg":310,"No":-15.3,"Nf":-10.8,"Ng":-10.6,"Co":372,"Cf":376,"Cg":373},
{"t":204,"Ho":148,"Hf":180,"Hg":179,"Lo":380,"Lf":350,"Lg":348,"No":-14.4,"Nf":-10.4,"Ng":-10.2,"Co":365,"Cf":376,"Cg":373},
{"t":205,"Ho":144,"Hf":128,"Hg":127,"Lo":392,"Lf":336,"Lg":334,"No":-12.6,"Nf":-9.5,"Ng":-9.3,"Co":362,"Cf":376,"Cg":373},
{"t":206,"Ho":124,"Hf":99,"Hg":98,"Lo":353,"Lf":326,"Lg":324,"No":-9.9,"Nf":-8.7,"Ng":-8.5,"Co":361,"Cf":376,"Cg":373},
{"t":207,"Ho":83,"Hf":59,"Hg":58,"Lo":282,"Lf":280,"Lg":278,"No":-6.8,"Nf":-7.4,"Ng":-7.2,"Co":361,"Cf":376,"Cg":373},
{"t":208,"Ho":52,"Hf":9,"Hg":8,"Lo":196,"Lf":189,"Lg":187,"No":-2.7,"Nf":-3.9,"Ng":-3.8,"Co":363,"Cf":376,"Cg":374},
{"t":209,"Ho":12,"Hf":-3,"Hg":-3,"Lo":98,"Lf":88,"Lg":86,"No":2.9,"Nf":0.0,"Ng":0.1,"Co":368,"Cf":376,"Cg":375},
{"t":210,"Ho":-2,"Hf":-3,"Hg":-3,"Lo":27,"Lf":25,"Lg":25,"No":7.9,"Nf":5.2,"Ng":5.2,"Co":383,"Cf":377,"Cg":386},
{"t":211,"Ho":-9,"Hf":-2,"Hg":-3,"Lo":16,"Lf":17,"Lg":17,"No":9.6,"Nf":6.2,"Ng":6.2,"Co":400,"Cf":378,"Cg":398},
{"t":212,"Ho":-12,"Hf":-2,"Hg":-3,"Lo":15,"Lf":14,"Lg":14,"No":10.1,"Nf":6.3,"Ng":6.3,"Co":415,"Cf":378,"Cg":410},
{"t":213,"Ho":-13,"Hf":-2,"Hg":-3,"Lo":12,"Lf":13,"Lg":13,"No":9.3,"Nf":6.2,"Ng":6.2,"Co":428,"Cf":378,"Cg":420},
{"t":214,"Ho":-14,"Hf":-2,"Hg":-3,"Lo":12,"Lf":13,"Lg":13,"No":9.0,"Nf":6.1,"Ng":6.1,"Co":440,"Cf":378,"Cg":430},
{"t":215,"Ho":-15,"Hf":-2,"Hg":-3,"Lo":10,"Lf":12,"Lg":12,"No":8.6,"Nf":6.1,"Ng":6.1,"Co":449,"Cf":378,"Cg":437},
{"t":216,"Ho":-13,"Hf":-2,"Hg":-3,"Lo":9,"Lf":12,"Lg":12,"No":8.4,"Nf":6.0,"Ng":6.0,"Co":455,"Cf":378,"Cg":442},
{"t":217,"Ho":-11,"Hf":-2,"Hg":-3,"Lo":8,"Lf":4,"Lg":4,"No":8.2,"Nf":6.0,"Ng":6.0,"Co":457,"Cf":378,"Cg":444},
{"t":218,"Ho":-13,"Hf":-2,"Hg":-3,"Lo":10,"Lf":4,"Lg":4,"No":8.9,"Nf":6.0,"Ng":6.0,"Co":460,"Cf":378,"Cg":445},
{"t":219,"Ho":-14,"Hf":-2,"Hg":-3,"Lo":11,"Lf":4,"Lg":4,"No":8.5,"Nf":6.0,"Ng":6.0,"Co":462,"Cf":378,"Cg":446},
{"t":220,"Ho":-13,"Hf":-2,"Hg":-3,"Lo":10,"Lf":4,"Lg":4,"No":9.1,"Nf":5.9,"Ng":5.9,"Co":463,"Cf":378,"Cg":446},
{"t":221,"Ho":-15,"Hf":-2,"Hg":-3,"Lo":11,"Lf":4,"Lg":4,"No":8.0,"Nf":5.9,"Ng":5.9,"Co":462,"Cf":378,"Cg":446},
{"t":222,"Ho":-13,"Hf":-2,"Hg":-3,"Lo":10,"Lf":4,"Lg":4,"No":7.6,"Nf":5.9,"Ng":5.9,"Co":460,"Cf":378,"Cg":446},
{"t":223,"Ho":-4,"Hf":0,"Hg":-1,"Lo":28,"Lf":5,"Lg":5,"No":0.7,"Nf":5.6,"Ng":5.6,"Co":455,"Cf":378,"Cg":445},
{"t":224,"Ho":39,"Hf":47,"Hg":46,"Lo":117,"Lf":95,"Lg":93,"No":-9.4,"Nf":-6.1,"Ng":-5.9,"Co":430,"Cf":377,"Cg":408},
{"t":225,"Ho":79,"Hf":82,"Hg":81,"Lo":202,"Lf":207,"Lg":205,"No":-15.6,"Nf":-11.8,"Ng":-11.5,"Co":400,"Cf":376,"Cg":375},
{"t":226,"Ho":115,"Hf":125,"Hg":124,"Lo":263,"Lf":265,"Lg":263,"No":-18.0,"Nf":-13.0,"Ng":-12.7,"Co":382,"Cf":376,"Cg":373},
{"t":227,"Ho":130,"Hf":152,"Hg":151,"Lo":312,"Lf":303,"Lg":301,"No":-17.7,"Nf":-12.8,"Ng":-12.6,"Co":370,"Cf":376,"Cg":373},
{"t":228,"Ho":138,"Hf":158,"Hg":157,"Lo":344,"Lf":340,"Lg":338,"No":-16.6,"Nf":-12.3,"Ng":-12.1,"Co":363,"Cf":376,"Cg":373},
{"t":229,"Ho":134,"Hf":112,"Hg":111,"Lo":355,"Lf":326,"Lg":324,"No":-14.5,"Nf":-11.3,"Ng":-11.1,"Co":360,"Cf":376,"Cg":373},
{"t":230,"Ho":116,"Hf":87,"Hg":86,"Lo":320,"Lf":316,"Lg":314,"No":-11.4,"Nf":-10.2,"Ng":-10.0,"Co":359,"Cf":376,"Cg":373},
{"t":231,"Ho":77,"Hf":52,"Hg":51,"Lo":256,"Lf":272,"Lg":270,"No":-7.8,"Nf":-8.7,"Ng":-8.5,"Co":359,"Cf":376,"Cg":373},
{"t":232,"Ho":48,"Hf":8,"Hg":7,"Lo":178,"Lf":184,"Lg":182,"No":-3.1,"Nf":-4.6,"Ng":-4.5,"Co":361,"Cf":376,"Cg":374},
{"t":233,"Ho":11,"Hf":-3,"Hg":-3,"Lo":89,"Lf":85,"Lg":83,"No":2.8,"Nf":-0.2,"Ng":-0.1,"Co":366,"Cf":376,"Cg":375},
{"t":234,"Ho":-3,"Hf":-3,"Hg":-3,"Lo":25,"Lf":24,"Lg":24,"No":7.6,"Nf":5.0,"Ng":5.0,"Co":382,"Cf":377,"Cg":387},
{"t":235,"Ho":-9,"Hf":-2,"Hg":-3,"Lo":15,"Lf":16,"Lg":16,"No":9.4,"Nf":6.0,"Ng":6.0,"Co":400,"Cf":378,"Cg":399},
{"t":236,"Ho":-12,"Hf":-2,"Hg":-3,"Lo":13,"Lf":13,"Lg":13,"No":9.9,"Nf":6.1,"Ng":6.1,"Co":417,"Cf":378,"Cg":411},
{"t":237,"Ho":-13,"Hf":-2,"Hg":-3,"Lo":12,"Lf":13,"Lg":13,"No":9.1,"Nf":6.1,"Ng":6.1,"Co":432,"Cf":378,"Cg":422},
{"t":238,"Ho":-14,"Hf":-2,"Hg":-3,"Lo":11,"Lf":12,"Lg":12,"No":8.8,"Nf":6.0,"Ng":6.0,"Co":444,"Cf":378,"Cg":432},
{"t":239,"Ho":-13,"Hf":-2,"Hg":-3,"Lo":10,"Lf":12,"Lg":12,"No":8.4,"Nf":6.0,"Ng":6.0,"Co":452,"Cf":378,"Cg":440},
{"t":240,"Ho":-12,"Hf":-2,"Hg":-3,"Lo":8,"Lf":11,"Lg":11,"No":8.2,"Nf":6.0,"Ng":6.0,"Co":458,"Cf":378,"Cg":446},
{"t":241,"Ho":-10,"Hf":-2,"Hg":-3,"Lo":10,"Lf":4,"Lg":4,"No":8.0,"Nf":6.0,"Ng":6.0,"Co":461,"Cf":377,"Cg":449},
{"t":242,"Ho":-12,"Hf":-2,"Hg":-3,"Lo":13,"Lf":4,"Lg":4,"No":8.6,"Nf":6.0,"Ng":6.0,"Co":464,"Cf":377,"Cg":450},
{"t":243,"Ho":-13,"Hf":-2,"Hg":-3,"Lo":16,"Lf":4,"Lg":4,"No":8.3,"Nf":5.9,"Ng":5.9,"Co":466,"Cf":377,"Cg":451},
{"t":244,"Ho":-14,"Hf":-2,"Hg":-3,"Lo":20,"Lf":4,"Lg":4,"No":8.9,"Nf":5.9,"Ng":5.9,"Co":467,"Cf":377,"Cg":451},
{"t":245,"Ho":-12,"Hf":-2,"Hg":-3,"Lo":25,"Lf":4,"Lg":4,"No":7.8,"Nf":5.9,"Ng":5.9,"Co":466,"Cf":377,"Cg":451},
{"t":246,"Ho":-13,"Hf":-2,"Hg":-3,"Lo":28,"Lf":4,"Lg":4,"No":7.4,"Nf":5.9,"Ng":5.9,"Co":464,"Cf":377,"Cg":450},
{"t":247,"Ho":-5,"Hf":0,"Hg":-1,"Lo":40,"Lf":5,"Lg":5,"No":0.5,"Nf":5.7,"Ng":5.7,"Co":458,"Cf":377,"Cg":450},
{"t":248,"Ho":31,"Hf":37,"Hg":36,"Lo":115,"Lf":85,"Lg":83,"No":-9.9,"Nf":-5.2,"Ng":-5.0,"Co":430,"Cf":376.5,"Cg":410},
{"t":249,"Ho":64,"Hf":63,"Hg":62,"Lo":198,"Lf":186,"Lg":184,"No":-16.5,"Nf":-10.0,"Ng":-9.7,"Co":400,"Cf":376,"Cg":375},
{"t":250,"Ho":93,"Hf":96,"Hg":95,"Lo":258,"Lf":238,"Lg":236,"No":-19.0,"Nf":-11.0,"Ng":-10.7,"Co":383,"Cf":376,"Cg":373},
{"t":251,"Ho":105,"Hf":117,"Hg":116,"Lo":306,"Lf":271,"Lg":269,"No":-18.7,"Nf":-10.8,"Ng":-10.6,"Co":372,"Cf":376,"Cg":373},
{"t":252,"Ho":112,"Hf":122,"Hg":121,"Lo":338,"Lf":305,"Lg":303,"No":-17.6,"Nf":-10.4,"Ng":-10.2,"Co":366,"Cf":376,"Cg":373},
{"t":253,"Ho":109,"Hf":87,"Hg":86,"Lo":348,"Lf":293,"Lg":291,"No":-15.4,"Nf":-9.5,"Ng":-9.3,"Co":364,"Cf":376,"Cg":373},
{"t":254,"Ho":94,"Hf":67,"Hg":66,"Lo":313,"Lf":284,"Lg":282,"No":-12.1,"Nf":-8.7,"Ng":-8.5,"Co":363,"Cf":376,"Cg":373},
{"t":255,"Ho":63,"Hf":40,"Hg":39,"Lo":251,"Lf":244,"Lg":242,"No":-8.3,"Nf":-7.4,"Ng":-7.2,"Co":364,"Cf":376,"Cg":373},
{"t":256,"Ho":39,"Hf":6,"Hg":5,"Lo":174,"Lf":165,"Lg":163,"No":-3.3,"Nf":-3.9,"Ng":-3.8,"Co":366,"Cf":376,"Cg":374},
{"t":257,"Ho":9,"Hf":-3,"Hg":-3,"Lo":87,"Lf":76,"Lg":74,"No":2.7,"Nf":-0.2,"Ng":-0.1,"Co":371,"Cf":376,"Cg":375},
{"t":258,"Ho":-3,"Hf":-3,"Hg":-3,"Lo":24,"Lf":21,"Lg":21,"No":7.5,"Nf":4.9,"Ng":4.9,"Co":385,"Cf":376.5,"Cg":386},
{"t":259,"Ho":-8,"Hf":-2,"Hg":-3,"Lo":14,"Lf":15,"Lg":15,"No":9.2,"Nf":5.9,"Ng":5.9,"Co":400,"Cf":377,"Cg":397},
{"t":260,"Ho":-11,"Hf":-2,"Hg":-3,"Lo":13,"Lf":12,"Lg":12,"No":9.7,"Nf":6.0,"Ng":6.0,"Co":414,"Cf":377,"Cg":408},
{"t":261,"Ho":-12,"Hf":-2,"Hg":-3,"Lo":11,"Lf":12,"Lg":12,"No":8.9,"Nf":6.0,"Ng":6.0,"Co":427,"Cf":377,"Cg":418},
{"t":262,"Ho":-13,"Hf":-2,"Hg":-3,"Lo":11,"Lf":11,"Lg":11,"No":8.6,"Nf":5.9,"Ng":5.9,"Co":438,"Cf":377,"Cg":427},
{"t":263,"Ho":-14,"Hf":-2,"Hg":-3,"Lo":10,"Lf":11,"Lg":11,"No":8.2,"Nf":5.9,"Ng":5.9,"Co":447,"Cf":377,"Cg":434},
{"t":264,"Ho":-12,"Hf":-2,"Hg":-3,"Lo":8,"Lf":11,"Lg":11,"No":8.0,"Nf":5.9,"Ng":5.9,"Co":452,"Cf":377,"Cg":440},
{"t":265,"Ho":-11,"Hf":-2,"Hg":-3,"Lo":8,"Lf":4,"Lg":4,"No":8.3,"Nf":5.9,"Ng":5.9,"Co":455,"Cf":378,"Cg":442},
{"t":266,"Ho":-13,"Hf":-2,"Hg":-3,"Lo":9,"Lf":4,"Lg":4,"No":8.8,"Nf":5.9,"Ng":5.9,"Co":458,"Cf":378,"Cg":443},
{"t":267,"Ho":-12,"Hf":-2,"Hg":-3,"Lo":10,"Lf":4,"Lg":4,"No":8.4,"Nf":5.9,"Ng":5.9,"Co":459,"Cf":378,"Cg":443},
{"t":268,"Ho":-14,"Hf":-2,"Hg":-3,"Lo":11,"Lf":4,"Lg":4,"No":9.0,"Nf":5.8,"Ng":5.8,"Co":460,"Cf":378,"Cg":444},
{"t":269,"Ho":-15,"Hf":-2,"Hg":-3,"Lo":10,"Lf":4,"Lg":4,"No":7.9,"Nf":5.8,"Ng":5.8,"Co":459,"Cf":378,"Cg":444},
{"t":270,"Ho":-13,"Hf":-2,"Hg":-3,"Lo":9,"Lf":4,"Lg":4,"No":7.5,"Nf":5.8,"Ng":5.8,"Co":457,"Cf":378,"Cg":443},
{"t":271,"Ho":-6,"Hf":-1,"Hg":-2,"Lo":26,"Lf":5,"Lg":5,"No":0.6,"Nf":5.6,"Ng":5.6,"Co":452,"Cf":378,"Cg":443},
{"t":272,"Ho":35,"Hf":32,"Hg":31,"Lo":109,"Lf":78,"Lg":76,"No":-8.9,"Nf":-6.0,"Ng":-5.8,"Co":425,"Cf":377,"Cg":407},
{"t":273,"Ho":71,"Hf":55,"Hg":54,"Lo":188,"Lf":171,"Lg":169,"No":-14.8,"Nf":-11.5,"Ng":-11.2,"Co":397,"Cf":376,"Cg":375},
{"t":274,"Ho":103,"Hf":84,"Hg":83,"Lo":244,"Lf":218,"Lg":216,"No":-17.0,"Nf":-12.7,"Ng":-12.4,"Co":382,"Cf":376,"Cg":373},
{"t":275,"Ho":117,"Hf":102,"Hg":101,"Lo":290,"Lf":249,"Lg":247,"No":-16.8,"Nf":-12.5,"Ng":-12.3,"Co":374,"Cf":376,"Cg":373},
{"t":276,"Ho":124,"Hf":106,"Hg":105,"Lo":320,"Lf":280,"Lg":278,"No":-15.8,"Nf":-12.0,"Ng":-11.8,"Co":370,"Cf":376,"Cg":373},
{"t":277,"Ho":120,"Hf":75,"Hg":74,"Lo":330,"Lf":269,"Lg":267,"No":-13.8,"Nf":-11.0,"Ng":-10.8,"Co":368,"Cf":376,"Cg":373},
{"t":278,"Ho":104,"Hf":58,"Hg":57,"Lo":297,"Lf":260,"Lg":258,"No":-10.9,"Nf":-10.0,"Ng":-9.8,"Co":368,"Cf":376,"Cg":373},
{"t":279,"Ho":69,"Hf":35,"Hg":34,"Lo":238,"Lf":224,"Lg":222,"No":-7.4,"Nf":-8.5,"Ng":-8.3,"Co":369,"Cf":376,"Cg":373},
{"t":280,"Ho":43,"Hf":5,"Hg":4,"Lo":165,"Lf":151,"Lg":149,"No":-3.0,"Nf":-4.5,"Ng":-4.4,"Co":371,"Cf":376,"Cg":374},
{"t":281,"Ho":10,"Hf":-3,"Hg":-3,"Lo":83,"Lf":70,"Lg":68,"No":2.9,"Nf":-0.3,"Ng":-0.2,"Co":376,"Cf":376,"Cg":375},
{"t":282,"Ho":-4,"Hf":-3,"Hg":-3,"Lo":23,"Lf":20,"Lg":20,"No":7.8,"Nf":4.8,"Ng":4.8,"Co":390,"Cf":377,"Cg":384},
{"t":283,"Ho":-9,"Hf":-2,"Hg":-3,"Lo":13,"Lf":14,"Lg":14,"No":9.5,"Nf":5.9,"Ng":5.9,"Co":405,"Cf":378,"Cg":393},
{"t":284,"Ho":-12,"Hf":-2,"Hg":-3,"Lo":12,"Lf":12,"Lg":12,"No":10.0,"Nf":6.0,"Ng":6.0,"Co":418,"Cf":378,"Cg":402},
{"t":285,"Ho":-13,"Hf":-2,"Hg":-3,"Lo":10,"Lf":11,"Lg":11,"No":9.2,"Nf":6.0,"Ng":6.0,"Co":430,"Cf":378,"Cg":410},
{"t":286,"Ho":-14,"Hf":-2,"Hg":-3,"Lo":10,"Lf":11,"Lg":11,"No":8.9,"Nf":5.9,"Ng":5.9,"Co":440,"Cf":378,"Cg":417},
{"t":287,"Ho":-15,"Hf":-2,"Hg":-3,"Lo":9,"Lf":10,"Lg":10,"No":8.5,"Nf":5.9,"Ng":5.9,"Co":448,"Cf":378,"Cg":423},
{"t":288,"Ho":-13,"Hf":-2,"Hg":-3,"Lo":7,"Lf":10,"Lg":10,"No":8.7,"Nf":5.9,"Ng":5.9,"Co":454,"Cf":378,"Cg":427}
    ],
    "annual": [
{"h":0,"Ho":-7,"Hf":0,"Hg":-1,"Lo":6,"Lf":9,"Lg":8,"No":14,"Nf":11.5,"Ng":11.5,"Co":454.5,"Cf":377.3,"Cg":440.6},
{"h":1,"Ho":-7,"Hf":-1,"Hg":-1,"Lo":9,"Lf":4,"Lg":4,"No":12.2,"Nf":11.5,"Ng":11.5,"Co":459.4,"Cf":377.3,"Cg":442},
{"h":2,"Ho":-5,"Hf":-1,"Hg":-1,"Lo":9,"Lf":4,"Lg":4,"No":9.9,"Nf":11.5,"Ng":11.5,"Co":460.5,"Cf":377.3,"Cg":443.7},
{"h":3,"Ho":-7,"Hf":-1,"Hg":-1,"Lo":9,"Lf":4,"Lg":4,"No":12.2,"Nf":11.5,"Ng":11.5,"Co":460.5,"Cf":377.3,"Cg":445.5},
{"h":4,"Ho":-7,"Hf":-1,"Hg":-1,"Lo":9,"Lf":4,"Lg":4,"No":9.5,"Nf":11,"Ng":11,"Co":460.5,"Cf":377.3,"Cg":446.5},
{"h":5,"Ho":-7,"Hf":-1,"Hg":-1,"Lo":9,"Lf":4,"Lg":4,"No":11,"Nf":11,"Ng":11,"Co":459.4,"Cf":377.3,"Cg":447.2},
{"h":6,"Ho":-1,"Hf":0,"Hg":0,"Lo":26,"Lf":4,"Lg":4,"No":-0.7,"Nf":10.1,"Ng":10.1,"Co":452.4,"Cf":377.3,"Cg":447.6},
{"h":7,"Ho":30,"Hf":38,"Hg":37,"Lo":113,"Lf":85,"Lg":84,"No":-17.5,"Nf":-11.1,"Ng":-11.1,"Co":418.5,"Cf":374,"Cg":409.8},
{"h":8,"Ho":62,"Hf":66,"Hg":65,"Lo":197,"Lf":185,"Lg":184,"No":-28.5,"Nf":-24.1,"Ng":-24.1,"Co":390.6,"Cf":372.5,"Cg":372.4},
{"h":9,"Ho":90,"Hf":100,"Hg":99,"Lo":255,"Lf":235,"Lg":234,"No":-34.4,"Nf":-25.8,"Ng":-25.8,"Co":380,"Cf":372.5,"Cg":370.6},
{"h":10,"Ho":102,"Hf":121,"Hg":120,"Lo":302,"Lf":270,"Lg":270,"No":-33.7,"Nf":-25.5,"Ng":-25.5,"Co":370.3,"Cf":372.5,"Cg":370.6},
{"h":11,"Ho":108,"Hf":126,"Hg":125,"Lo":334,"Lf":302,"Lg":301,"No":-32.2,"Nf":-24.4,"Ng":-24.4,"Co":365,"Cf":372.5,"Cg":370.6},
{"h":12,"Ho":105,"Hf":90,"Hg":89,"Lo":345,"Lf":290,"Lg":290,"No":-27.4,"Nf":-21.9,"Ng":-21.9,"Co":363.3,"Cf":372.5,"Cg":370.6},
{"h":13,"Ho":91,"Hf":69,"Hg":68,"Lo":309,"Lf":282,"Lg":281,"No":-22.6,"Nf":-19.9,"Ng":-19.9,"Co":361.9,"Cf":372.5,"Cg":370.6},
{"h":14,"Ho":60,"Hf":42,"Hg":41,"Lo":247,"Lf":243,"Lg":243,"No":-14.8,"Nf":-17.3,"Ng":-17.3,"Co":361.9,"Cf":372.5,"Cg":370.6},
{"h":15,"Ho":38,"Hf":6,"Hg":5,"Lo":173,"Lf":164,"Lg":163,"No":-7,"Nf":-9.3,"Ng":-9.3,"Co":361.9,"Cf":372.5,"Cg":371.3},
{"h":16,"Ho":9,"Hf":-3,"Hg":-3,"Lo":86,"Lf":77,"Lg":76,"No":4.8,"Nf":-0.4,"Ng":-0.4,"Co":365.4,"Cf":372.5,"Cg":373},
{"h":17,"Ho":-1,"Hf":-3,"Hg":-3,"Lo":25,"Lf":22,"Lg":22,"No":15.6,"Nf":10.1,"Ng":10.1,"Co":380,"Cf":377.3,"Cg":383.6},
{"h":18,"Ho":-5,"Hf":-1,"Hg":-1,"Lo":15,"Lf":15,"Lg":15,"No":19.9,"Nf":12.6,"Ng":12.6,"Co":400.3,"Cf":377.3,"Cg":396.9},
{"h":19,"Ho":-5,"Hf":-1,"Hg":-1,"Lo":15,"Lf":13,"Lg":13,"No":17.8,"Nf":12.2,"Ng":12.2,"Co":414,"Cf":377.3,"Cg":405.2},
{"h":20,"Ho":-5,"Hf":-1,"Hg":-1,"Lo":11,"Lf":13,"Lg":13,"No":16.3,"Nf":12.2,"Ng":12.2,"Co":427.3,"Cf":377.3,"Cg":415},
{"h":21,"Ho":-7,"Hf":-1,"Hg":-1,"Lo":11,"Lf":13,"Lg":13,"No":15.6,"Nf":12.2,"Ng":12.2,"Co":436,"Cf":377.3,"Cg":422},
{"h":22,"Ho":-7,"Hf":-1,"Hg":-1,"Lo":11,"Lf":13,"Lg":13,"No":13.7,"Nf":11.5,"Ng":11.5,"Co":443.7,"Cf":377.3,"Cg":427.3},
{"h":23,"Ho":-7,"Hf":-1,"Hg":-1,"Lo":8,"Lf":13,"Lg":13,"No":12.6,"Nf":11.2,"Ng":11.2,"Co":450,"Cf":377.3,"Cg":434.3}
    ]
  },
  "columns": 2,
  "spacing": {"row": 62, "column": 13},
  "bounds": "flush",
  "concat": [
    {
      "width": 783, "height": 142,
      "data": {"name": "monthly"},
      "resolve": {"axis": {"x": "independent", "y": "independent"}},
      "layer": [
        {"mark": {"type": "point", "shape": "circle", "filled": false, "color": "#0000ee", "size": 130, "strokeWidth": 1.2, "opacity": 1},
         "encoding": {
           "x": {"field": "t", "type": "quantitative", "scale": {"domain": [0, 300], "nice": false, "zero": false},
                 "axis": {"orient": "bottom", "values": [24,48,72,96,120,144,168,192,216,240,264,288], "labels": false, "title": null}},
           "y": {"field": "Ho", "type": "quantitative", "scale": {"domain": [-100, 200], "nice": false, "zero": false},
                 "axis": {"orient": "left", "values": [-100,0,100,200], "labelExpr": "'' + datum.value", "title": "H(W m⁻2)", "titlePadding": 20}}}},
        {"mark": {"type": "point", "shape": "diamond", "filled": true, "color": "#000000", "size": 28, "opacity": 1},
         "encoding": {
           "x": {"field": "t", "type": "quantitative",
                 "axis": {"orient": "top", "values": [24,48,72,96,120,144,168,192,216,240,264,288], "labelOffset": -31.3, "labelPadding": 6, "labelFontSize": 19,
                          "labelExpr": "['Jan','Feb','Mar','Apr','May','Jun','Jul','Aug','Sep','Oct','Nov','Dec'][round(datum.value/24)-1]", "title": null}},
           "y": {"field": "Hf", "type": "quantitative", "axis": {"orient": "right", "values": [-100,0,100,200], "labels": false, "title": null}}}},
        {"mark": {"type": "line", "color": "#e8141c", "strokeWidth": 1.2},
         "encoding": {"x": {"field": "t", "type": "quantitative", "axis": null}, "y": {"field": "Hg", "type": "quantitative", "axis": null}}},
        {"data": {"values": []},
         "mark": {"type": "point", "filled": false, "opacity": 1, "strokeWidth": 1.3},
         "encoding": {
           "color": {"field": "s", "type": "nominal", "scale": {"domain": ["K83(@20m)", "CAS fix", "CAS prog"], "range": ["#0000ee", "#000000", "#e8141c"]},
                     "legend": {"orient": "none", "legendX": -133, "legendY": -117, "title": null, "strokeColor": "black", "fillColor": "white", "padding": 5, "labelFont": "DejaVu Sans", "labelFontSize": 20, "labelColor": "black", "labelOffset": 33, "symbolOffset": 33, "rowPadding": 8, "symbolSize": 400, "symbolStrokeWidth": 1.3}},
           "shape": {"field": "s", "type": "nominal",
                     "scale": {"domain": ["K83(@20m)", "CAS fix", "CAS prog"], "range": ["M0.585,0A0.585,0.585,0,1,1,-0.585,0A0.585,0.585,0,1,1,0.585,0Z", "M-0.27,0L0,-0.27L0.27,0L0,0.27Z", "M-3.9,0L3.9,0"]},
                     "legend": {"orient": "none", "legendX": -133, "legendY": -117, "title": null, "strokeColor": "black", "fillColor": "white", "padding": 5, "labelFont": "DejaVu Sans", "labelFontSize": 20, "labelColor": "black", "labelOffset": 33, "symbolOffset": 33, "rowPadding": 8, "symbolSize": 400, "symbolStrokeWidth": 1.3}}}}
      ]
    },
    {
      "width": 530, "height": 142,
      "data": {"name": "annual"},
      "title": {"text": "Annual Cycle", "font": "DejaVu Sans", "fontSize": 19, "fontWeight": "normal", "color": "black", "offset": 4},
      "resolve": {"axis": {"x": "independent", "y": "independent"}},
      "layer": [
        {"mark": {"type": "point", "shape": "circle", "filled": false, "color": "#0000ee", "size": 170, "strokeWidth": 1.3, "opacity": 1},
         "encoding": {
           "x": {"field": "h", "type": "quantitative", "scale": {"domain": [0, 25], "nice": false, "zero": false},
                 "axis": {"orient": "bottom", "values": [0,5,10,15,20,25], "labelPadding": 14, "title": null}},
           "y": {"field": "Ho", "type": "quantitative", "scale": {"domain": [-100, 200], "nice": false, "zero": false},
                 "axis": {"orient": "left", "values": [-100,0,100,200], "labels": false, "title": null}}}},
        {"mark": {"type": "point", "shape": "diamond", "filled": true, "color": "#000000", "size": 36, "opacity": 1},
         "encoding": {
           "x": {"field": "h", "type": "quantitative", "axis": {"orient": "top", "values": [0,5,10,15,20,25], "labels": false, "title": null}},
           "y": {"field": "Hf", "type": "quantitative", "axis": {"orient": "right", "values": [-100,0,100,200], "labels": false, "title": null}}}},
        {"mark": {"type": "line", "color": "#e8141c", "strokeWidth": 1.2},
         "encoding": {"x": {"field": "h", "type": "quantitative", "axis": null}, "y": {"field": "Hg", "type": "quantitative", "axis": null}}}
      ]
    },
    {
      "width": 783, "height": 142,
      "data": {"name": "monthly"},
      "resolve": {"axis": {"x": "independent", "y": "independent"}},
      "layer": [
        {"mark": {"type": "point", "shape": "circle", "filled": false, "color": "#0000ee", "size": 130, "strokeWidth": 1.2, "opacity": 1},
         "encoding": {
           "x": {"field": "t", "type": "quantitative", "scale": {"domain": [0, 300], "nice": false, "zero": false},
                 "axis": {"orient": "bottom", "values": [24,48,72,96,120,144,168,192,216,240,264,288], "labels": false, "title": null}},
           "y": {"field": "Lo", "type": "quantitative", "scale": {"domain": [0, 400], "nice": false, "zero": false},
                 "axis": {"orient": "left", "values": [0,200,400], "title": "LE(W m⁻2)", "titlePadding": 20}}}},
        {"mark": {"type": "point", "shape": "diamond", "filled": true, "color": "#000000", "size": 28, "opacity": 1},
         "encoding": {
           "x": {"field": "t", "type": "quantitative",
                 "axis": {"orient": "top", "values": [24,48,72,96,120,144,168,192,216,240,264,288], "labelOffset": -31.3, "labelPadding": 6, "labelFontSize": 19,
                          "labelExpr": "['Jan','Feb','Mar','Apr','May','Jun','Jul','Aug','Sep','Oct','Nov','Dec'][round(datum.value/24)-1]", "title": null}},
           "y": {"field": "Lf", "type": "quantitative", "axis": {"orient": "right", "values": [0,200,400], "labels": false, "title": null}}}},
        {"mark": {"type": "line", "color": "#e8141c", "strokeWidth": 1.2},
         "encoding": {"x": {"field": "t", "type": "quantitative", "axis": null}, "y": {"field": "Lg", "type": "quantitative", "axis": null}}}
      ]
    },
    {
      "width": 530, "height": 142,
      "data": {"name": "annual"},
      "resolve": {"axis": {"x": "independent", "y": "independent"}},
      "layer": [
        {"mark": {"type": "point", "shape": "circle", "filled": false, "color": "#0000ee", "size": 170, "strokeWidth": 1.3, "opacity": 1},
         "encoding": {
           "x": {"field": "h", "type": "quantitative", "scale": {"domain": [0, 25], "nice": false, "zero": false},
                 "axis": {"orient": "bottom", "values": [0,5,10,15,20,25], "labelPadding": 14, "title": null}},
           "y": {"field": "Lo", "type": "quantitative", "scale": {"domain": [0, 400], "nice": false, "zero": false},
                 "axis": {"orient": "left", "values": [0,200,400], "labels": false, "title": null}}}},
        {"mark": {"type": "point", "shape": "diamond", "filled": true, "color": "#000000", "size": 36, "opacity": 1},
         "encoding": {
           "x": {"field": "h", "type": "quantitative", "axis": {"orient": "top", "values": [0,5,10,15,20,25], "labels": false, "title": null}},
           "y": {"field": "Lf", "type": "quantitative", "axis": {"orient": "right", "values": [0,200,400], "labels": false, "title": null}}}},
        {"mark": {"type": "line", "color": "#e8141c", "strokeWidth": 1.2},
         "encoding": {"x": {"field": "h", "type": "quantitative", "axis": null}, "y": {"field": "Lg", "type": "quantitative", "axis": null}}}
      ]
    },
    {
      "width": 783, "height": 142,
      "data": {"name": "monthly"},
      "resolve": {"axis": {"x": "independent", "y": "independent"}},
      "layer": [
        {"mark": {"type": "point", "shape": "circle", "filled": false, "color": "#0000ee", "size": 130, "strokeWidth": 1.2, "opacity": 1},
         "encoding": {
           "x": {"field": "t", "type": "quantitative", "scale": {"domain": [0, 300], "nice": false, "zero": false},
                 "axis": {"orient": "bottom", "values": [24,48,72,96,120,144,168,192,216,240,264,288], "labels": false, "title": null}},
           "y": {"field": "No", "type": "quantitative", "scale": {"domain": [-40, 20], "nice": false, "zero": false},
                 "axis": {"orient": "left", "values": [-40,-20,0,20], "labelExpr": "'' + datum.value", "title": "NEEf(umol m⁻2 s⁻1)", "titlePadding": 26}}}},
        {"mark": {"type": "point", "shape": "diamond", "filled": true, "color": "#000000", "size": 28, "opacity": 1},
         "encoding": {
           "x": {"field": "t", "type": "quantitative",
                 "axis": {"orient": "top", "values": [24,48,72,96,120,144,168,192,216,240,264,288], "labelOffset": -31.3, "labelPadding": 6, "labelFontSize": 19,
                          "labelExpr": "['Jan','Feb','Mar','Apr','May','Jun','Jul','Aug','Sep','Oct','Nov','Dec'][round(datum.value/24)-1]", "title": null}},
           "y": {"field": "Nf", "type": "quantitative", "axis": {"orient": "right", "values": [-40,-20,0,20], "labels": false, "title": null}}}},
        {"mark": {"type": "line", "color": "#e8141c", "strokeWidth": 1.2},
         "encoding": {"x": {"field": "t", "type": "quantitative", "axis": null}, "y": {"field": "Ng", "type": "quantitative", "axis": null}}}
      ]
    },
    {
      "width": 530, "height": 142,
      "data": {"name": "annual"},
      "resolve": {"axis": {"x": "independent", "y": "independent"}},
      "layer": [
        {"mark": {"type": "point", "shape": "circle", "filled": false, "color": "#0000ee", "size": 170, "strokeWidth": 1.3, "opacity": 1},
         "encoding": {
           "x": {"field": "h", "type": "quantitative", "scale": {"domain": [0, 25], "nice": false, "zero": false},
                 "axis": {"orient": "bottom", "values": [0,5,10,15,20,25], "labelPadding": 14, "title": null}},
           "y": {"field": "No", "type": "quantitative", "scale": {"domain": [-40, 20], "nice": false, "zero": false},
                 "axis": {"orient": "left", "values": [-40,-20,0,20], "labels": false, "title": null}}}},
        {"mark": {"type": "point", "shape": "diamond", "filled": true, "color": "#000000", "size": 36, "opacity": 1},
         "encoding": {
           "x": {"field": "h", "type": "quantitative", "axis": {"orient": "top", "values": [0,5,10,15,20,25], "labels": false, "title": null}},
           "y": {"field": "Nf", "type": "quantitative", "axis": {"orient": "right", "values": [-40,-20,0,20], "labels": false, "title": null}}}},
        {"mark": {"type": "line", "color": "#e8141c", "strokeWidth": 1.2},
         "encoding": {"x": {"field": "h", "type": "quantitative", "axis": null}, "y": {"field": "Ng", "type": "quantitative", "axis": null}}}
      ]
    },
    {
      "width": 783, "height": 142,
      "data": {"name": "monthly"},
      "resolve": {"axis": {"x": "independent", "y": "independent"}},
      "layer": [
        {"mark": {"type": "point", "shape": "circle", "filled": false, "color": "#0000ee", "size": 130, "strokeWidth": 1.2, "opacity": 1},
         "encoding": {
           "x": {"field": "t", "type": "quantitative", "scale": {"domain": [0, 300], "nice": false, "zero": false},
                 "axis": {"orient": "bottom", "values": [24,48,72,96,120,144,168,192,216,240,264,288], "labels": false, "title": null}},
           "y": {"field": "Co", "type": "quantitative", "scale": {"domain": [350, 500], "nice": false, "zero": false},
                 "axis": {"orient": "left", "values": [350,400,450,500], "title": "CO2(ppm)", "titlePadding": 20}}}},
        {"mark": {"type": "point", "shape": "diamond", "filled": true, "color": "#000000", "size": 28, "opacity": 1},
         "encoding": {
           "x": {"field": "t", "type": "quantitative",
                 "axis": {"orient": "top", "values": [24,48,72,96,120,144,168,192,216,240,264,288], "labelOffset": -31.3, "labelPadding": 6, "labelFontSize": 19,
                          "labelExpr": "['Jan','Feb','Mar','Apr','May','Jun','Jul','Aug','Sep','Oct','Nov','Dec'][round(datum.value/24)-1]", "title": null}},
           "y": {"field": "Cf", "type": "quantitative", "axis": {"orient": "right", "values": [350,400,450,500], "labels": false, "title": null}}}},
        {"mark": {"type": "line", "color": "#e8141c", "strokeWidth": 1.2},
         "encoding": {"x": {"field": "t", "type": "quantitative", "axis": null}, "y": {"field": "Cg", "type": "quantitative", "axis": null}}}
      ]
    },
    {
      "width": 530, "height": 142,
      "data": {"name": "annual"},
      "resolve": {"axis": {"x": "independent", "y": "independent"}},
      "layer": [
        {"mark": {"type": "point", "shape": "circle", "filled": false, "color": "#0000ee", "size": 170, "strokeWidth": 1.3, "opacity": 1},
         "encoding": {
           "x": {"field": "h", "type": "quantitative", "scale": {"domain": [0, 25], "nice": false, "zero": false},
                 "axis": {"orient": "bottom", "values": [0,5,10,15,20,25], "labelPadding": 14, "title": null}},
           "y": {"field": "Co", "type": "quantitative", "scale": {"domain": [350, 500], "nice": false, "zero": false},
                 "axis": {"orient": "left", "values": [350,400,450,500], "labels": false, "title": null}}}},
        {"mark": {"type": "point", "shape": "diamond", "filled": true, "color": "#000000", "size": 36, "opacity": 1},
         "encoding": {
           "x": {"field": "h", "type": "quantitative", "axis": {"orient": "top", "values": [0,5,10,15,20,25], "labels": false, "title": null}},
           "y": {"field": "Cf", "type": "quantitative", "axis": {"orient": "right", "values": [350,400,450,500], "labels": false, "title": null}}}},
        {"mark": {"type": "line", "color": "#e8141c", "strokeWidth": 1.2},
         "encoding": {"x": {"field": "h", "type": "quantitative", "axis": null}, "y": {"field": "Cg", "type": "quantitative", "axis": null}}}
      ]
    }
  ]
}
